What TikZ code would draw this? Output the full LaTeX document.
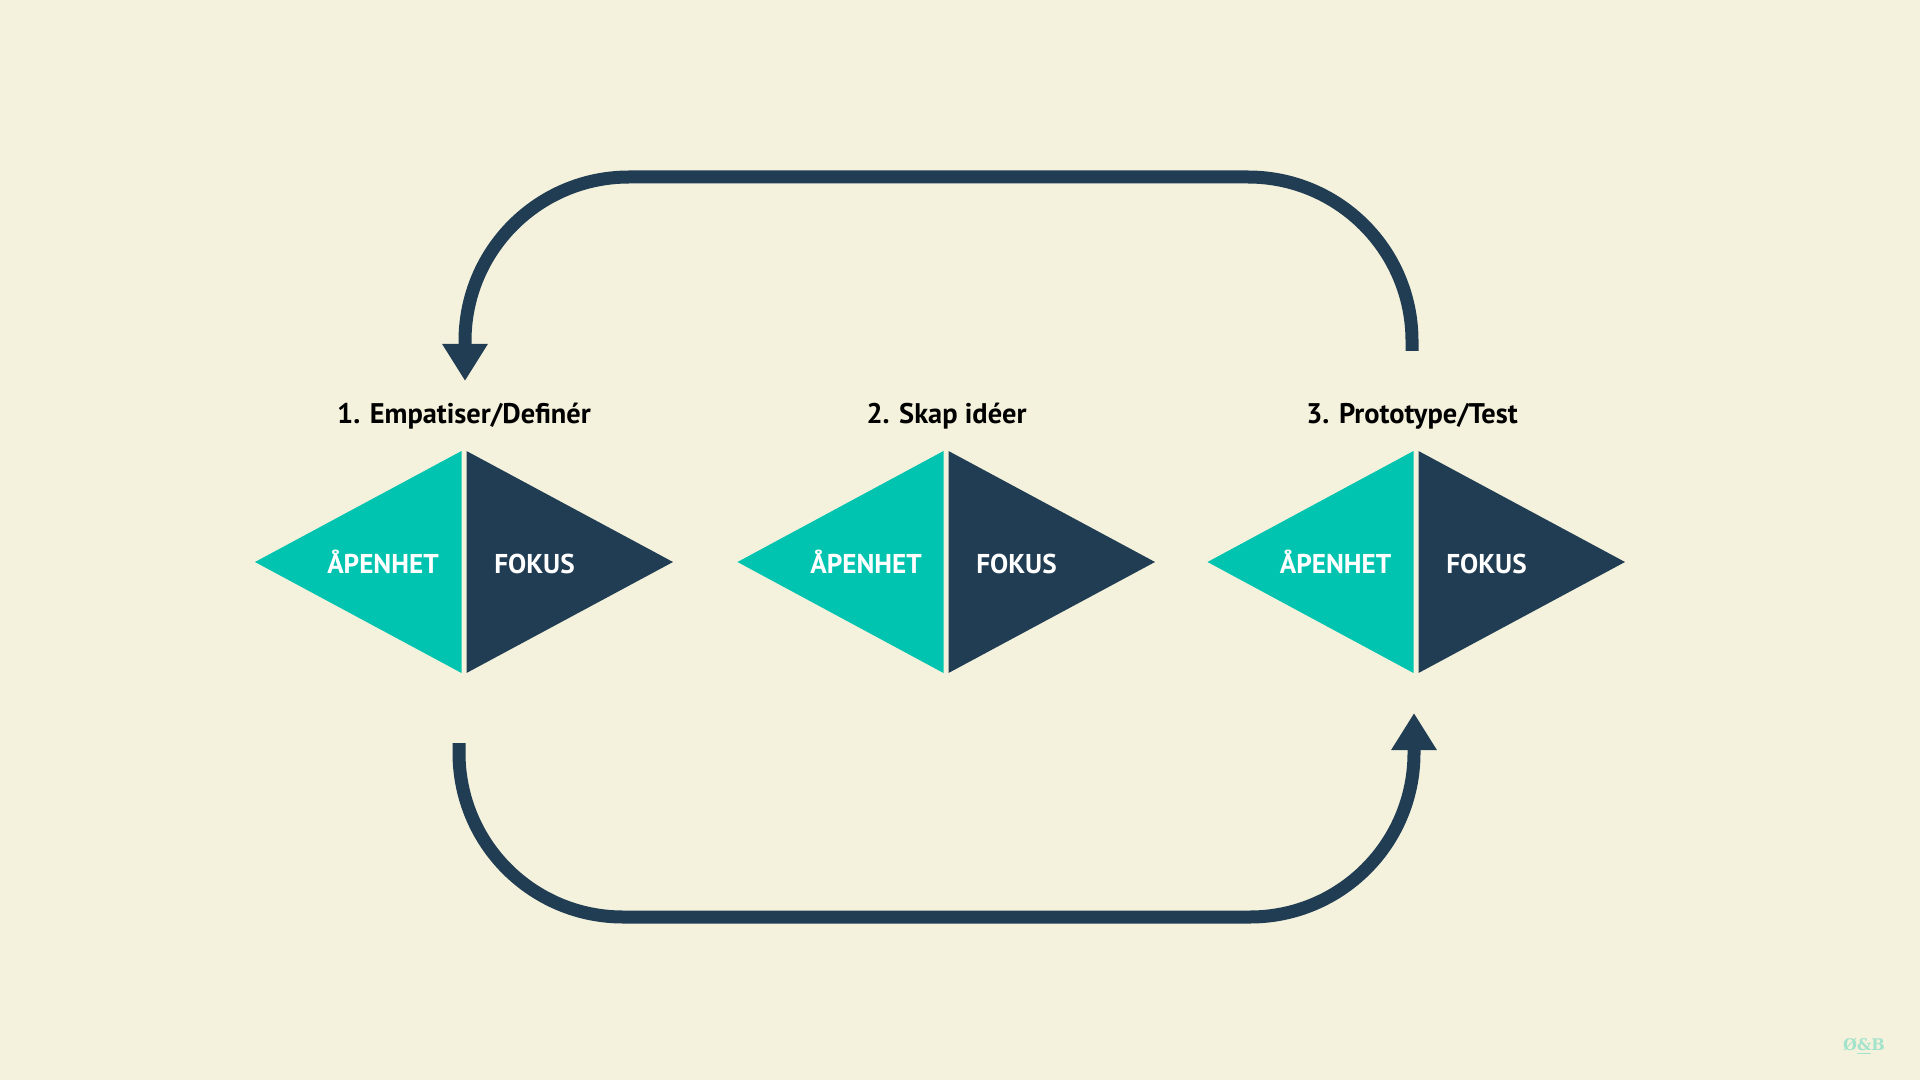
\documentclass[tikz,border=0pt]{standalone}
\usepackage{fontspec}
\setmainfont{PT Sans}
\newfontfamily\logofont{DejaVu Serif}
\usepackage{xcolor}
\usetikzlibrary{arrows.meta}
\definecolor{paper}{HTML}{F4F2DC}
\definecolor{openteal}{HTML}{00C4AF}
\definecolor{focusnavy}{HTML}{213D54}
\definecolor{logomint}{HTML}{A3E3CC}
\tikzstyle{openside} = [fill=openteal]
\tikzstyle{focusside} = [fill=focusnavy]
\tikzstyle{sidelabel} = [text=white, font=\fontsize{13.6}{15}\selectfont\bfseries, anchor=base, inner sep=0pt]
\tikzstyle{phasetitle} = [text=black, font=\fontsize{14.2}{16}\selectfont\bfseries, anchor=base, inner sep=0pt]
\tikzstyle{loopline} = [draw=focusnavy, line width=6.5pt, rounded corners=82pt,
    -{Triangle[width=21.5pt, length=18.5pt]}]

\begin{document}
\begin{tikzpicture}[x=0.5pt, y=-0.5pt]
\fill[paper] (0,0) rectangle (1920,1080);
% phase 1
\node[phasetitle] (title1) at (464,423) {1. Empatiser/Definér};
\fill[openside] (255,562) -- (461.5,451) -- (461.5,673) -- cycle;
\fill[focusside] (466.5,451) -- (673,562) -- (466.5,673) -- cycle;
\node[sidelabel] (open1) at (383,573) {ÅPENHET};
\node[sidelabel] (focus1) at (534.5,573) {FOKUS};
% phase 2
\node[phasetitle] (title2) at (946.5,423) {2. Skap idéer};
\fill[openside] (737.5,562) -- (943.5,451) -- (943.5,673) -- cycle;
\fill[focusside] (948.5,451) -- (1155,562) -- (948.5,673) -- cycle;
\node[sidelabel] (open2) at (866,573) {ÅPENHET};
\node[sidelabel] (focus2) at (1016.5,573) {FOKUS};
% phase 3
\node[phasetitle] (title3) at (1412,423) {3. Prototype/Test};
\fill[openside] (1207.5,562) -- (1413.5,451) -- (1413.5,673) -- cycle;
\fill[focusside] (1418.5,451) -- (1625,562) -- (1418.5,673) -- cycle;
\node[sidelabel] (open3) at (1335.5,573) {ÅPENHET};
\node[sidelabel] (focus3) at (1486.5,573) {FOKUS};
% loop back and forward
\coordinate (out3) at (1412,351);
\coordinate (in1) at (465,381);
\coordinate (out1) at (459,743);
\coordinate (in3) at (1414,713);
\coordinate (topline) at (0,177);
\coordinate (bottomline) at (0,917);
\draw[loopline] (out3) -- (out3 |- topline) -- (in1 |- topline) -- (in1);
\draw[loopline] (out1) -- (out1 |- bottomline) -- (in3 |- bottomline) -- (in3);
\node[text=logomint, font=\logofont\fontsize{8}{10}\selectfont\bfseries, anchor=base, inner sep=0pt] (logo) at (1864,1050) {Ø\underline{\&}B};
\end{tikzpicture}
\end{document}
